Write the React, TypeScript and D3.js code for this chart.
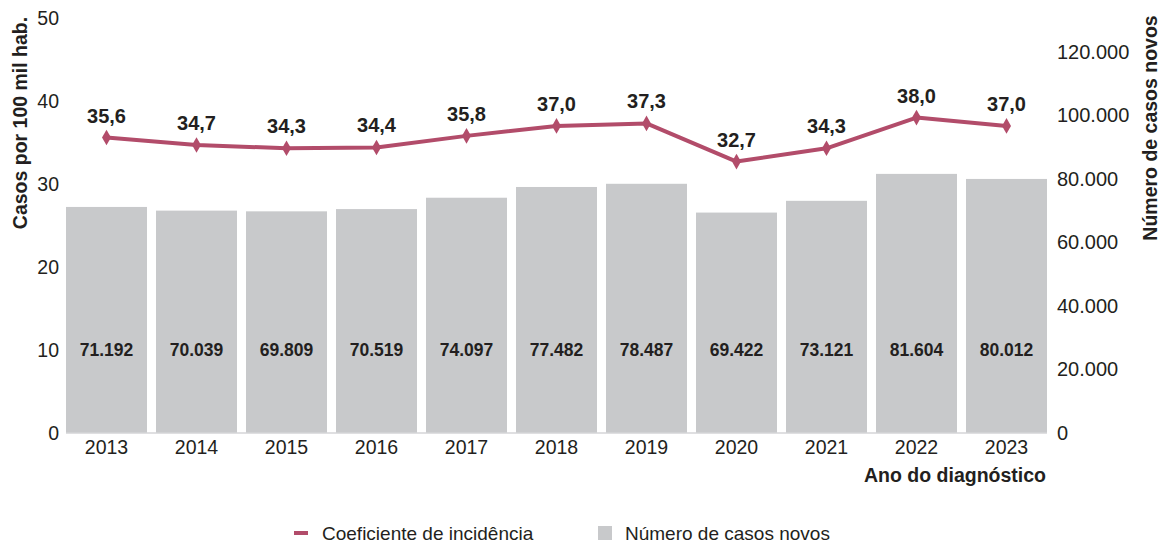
import React from "react";
import * as d3 from "d3";

// dados
const years = ["2013", "2014", "2015", "2016", "2017", "2018", "2019", "2020", "2021", "2022", "2023"];
const newCases = [71192, 70039, 69809, 70519, 74097, 77482, 78487, 69422, 73121, 81604, 80012];
const incidence = [35.6, 34.7, 34.3, 34.4, 35.8, 37.0, 37.3, 32.7, 34.3, 38.0, 37.0];
const leftTicks = [0, 10, 20, 30, 40, 50];
const rightTicks = [0, 20000, 40000, 60000, 80000, 100000, 120000];

const W = 1161;
const H = 547;
const LINE = "#b24c6a";
const BAR = "#c8c9cb";
const TXT = "#231f20";
const FONT = "'Liberation Sans', Arial, sans-serif";

const ptBR = (v: number, digits = 0) =>
  v.toLocaleString("pt-BR", { minimumFractionDigits: digits, maximumFractionDigits: digits });

export default function App() {
  const x = d3.scaleBand<string>().domain(years).range([66, 1047]).paddingInner(0.1).paddingOuter(0);
  const yLeft = d3.scaleLinear().domain([0, 50]).range([433, 18]);
  const yRight = d3.scaleLinear().domain([0, 130700]).range([433, 18]);

  const cx = (i: number) => (x(years[i]) ?? 0) + x.bandwidth() / 2;

  const line = d3
    .line<number>()
    .x((_, i) => cx(i))
    .y((d) => yLeft(d));

  const diamond = d3.symbol().type(d3.symbolDiamond).size(70)();

  return (
    <svg width={W} height={H} style={{ position: "absolute", left: 0, top: 0, background: "#fff" }} fontFamily={FONT}>
      {/* barras */}
      {newCases.map((v, i) => (
        <rect key={years[i]} x={x(years[i])} y={yRight(v)} width={x.bandwidth()} height={yRight(0) - yRight(v)} fill={BAR} />
      ))}
      <line x1={66} x2={1047} y1={433} y2={433} stroke="#d4d5d7" strokeWidth={1.5} />

      {/* rótulos das barras */}
      {newCases.map((v, i) => (
        <text key={"b" + i} x={cx(i)} y={yLeft(10)} dy="0.35em" textAnchor="middle" fontWeight="bold" fontSize={17.5} fill={TXT}>
          {ptBR(v)}
        </text>
      ))}

      {/* linha */}
      <path d={line(incidence) ?? ""} fill="none" stroke={LINE} strokeWidth={4} strokeLinejoin="round" />
      {incidence.map((v, i) => (
        <path key={"m" + i} d={diamond ?? ""} transform={`translate(${cx(i)},${yLeft(v)})`} fill={LINE} />
      ))}
      {incidence.map((v, i) => (
        <text key={"l" + i} x={cx(i)} y={yLeft(v) - 15} textAnchor="middle" fontWeight="bold" fontSize={20} fill={TXT}>
          {ptBR(v, 1)}
        </text>
      ))}

      {/* eixo x */}
      {years.map((y, i) => (
        <text key={"x" + y} x={cx(i)} y={447} dy="0.35em" textAnchor="middle" fontSize={19.5} fill={TXT}>
          {y}
        </text>
      ))}
      <text x={1046} y={475} dy="0.35em" textAnchor="end" fontWeight="bold" fontSize={19.5} fill={TXT}>
        Ano do diagnóstico
      </text>

      {/* eixo esquerdo */}
      {leftTicks.map((t) => (
        <text key={"yl" + t} x={59} y={yLeft(t)} dy="0.35em" textAnchor="end" fontSize={19.5} fill={TXT}>
          {t}
        </text>
      ))}
      <text transform="translate(20,123) rotate(-90)" dy="0.35em" textAnchor="middle" fontWeight="bold" fontSize={19.5} fill={TXT}>
        Casos por 100 mil hab.
      </text>

      {/* eixo direito */}
      {rightTicks.map((t) => (
        <text key={"yr" + t} x={1057} y={yRight(t)} dy="0.35em" textAnchor="start" fontSize={20} fill={TXT}>
          {ptBR(t)}
        </text>
      ))}
      <text transform="translate(1150,128) rotate(-90)" dy="0.35em" textAnchor="middle" fontWeight="bold" fontSize={19.5} fill={TXT}>
        Número de casos novos
      </text>

      {/* legenda */}
      <line x1={294} x2={308} y1={533} y2={533} stroke={LINE} strokeWidth={4} />
      <text x={322} y={533} dy="0.35em" fontSize={19} fill={TXT}>
        Coeficiente de incidência
      </text>
      <rect x={598} y={526} width={14} height={14} fill={BAR} />
      <text x={625} y={533} dy="0.35em" fontSize={19} fill={TXT}>
        Número de casos novos
      </text>
    </svg>
  );
}
